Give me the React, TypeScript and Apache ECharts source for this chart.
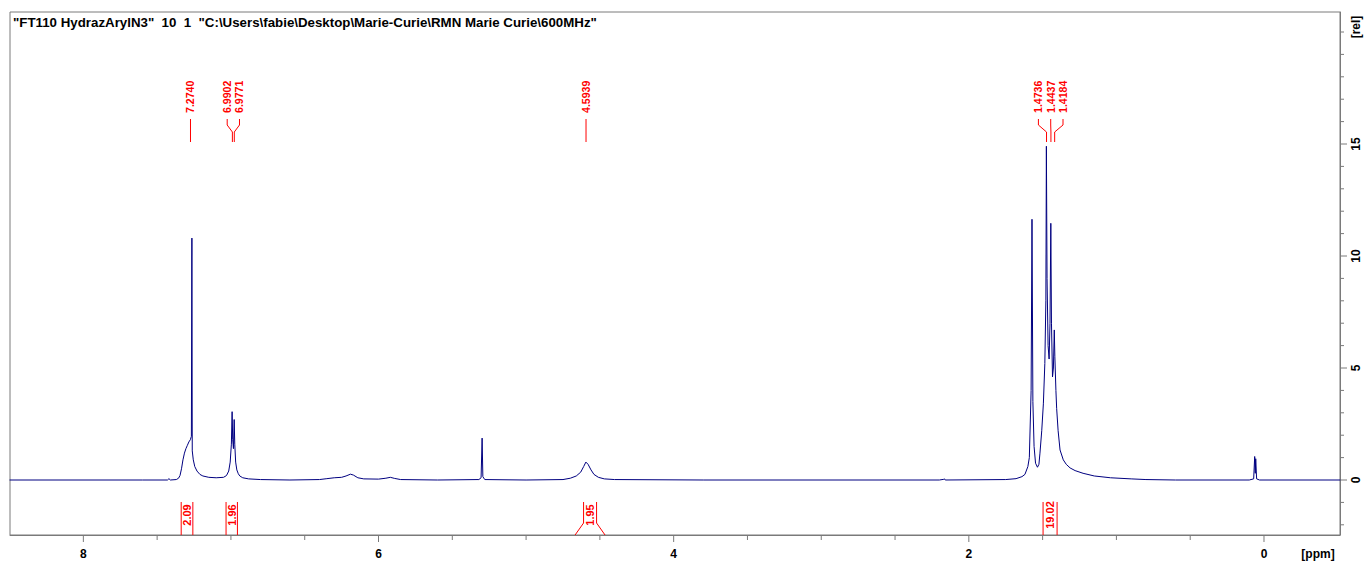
import React, { useEffect, useRef } from "react";
import * as echarts from "echarts";

const titleText =
  '"FT110 HydrazArylN3"  10  1  "C:\\Users\\fabie\\Desktop\\Marie-Curie\\RMN Marie Curie\\600MHz"';

// Spectrum points: chemical shift (ppm) and intensity (rel)
const specPpm = [
  8.5, 7.6, 7.43, 7.42, 7.41, 7.37, 7.355, 7.345, 7.335, 7.325, 7.315, 7.305, 7.295, 7.285,
  7.275, 7.268, 7.2645, 7.262, 7.255, 7.245, 7.23, 7.21, 7.19, 7.15, 7.1, 7.05, 7.03, 7.015,
  7.005, 6.997, 6.992, 6.988, 6.983, 6.978, 6.974, 6.968, 6.96, 6.95, 6.94, 6.92, 6.88, 6.8,
  6.6, 6.4, 6.35, 6.3, 6.25, 6.22, 6.19, 6.17, 6.14, 6.1, 6.0, 5.95, 5.92, 5.89, 5.85, 5.6,
  5.32, 5.305, 5.298, 5.293, 5.28, 5.0, 4.75, 4.7, 4.66, 4.63, 4.61, 4.595, 4.58, 4.56, 4.54,
  4.51, 4.47, 4.4, 3.8, 2.2, 2.17, 2.165, 2.16, 1.75, 1.68, 1.64, 1.62, 1.6, 1.59, 1.578,
  1.572, 1.566, 1.558, 1.548, 1.535, 1.525, 1.518, 1.506, 1.495, 1.485, 1.478, 1.4745, 1.47,
  1.463, 1.456, 1.45, 1.4445, 1.44, 1.433, 1.427, 1.421, 1.417, 1.41, 1.405, 1.395, 1.382,
  1.36, 1.34, 1.314, 1.28, 1.226, 1.15, 1.04, 0.9, 0.8, 0.6, 0.1, 0.07, 0.063, 0.059, 0.056,
  0.05, 0.03, -0.52,
];
const specInt = [
  0, 0, 0, 0.06, 0, 0.02, 0.08, 0.2, 0.5, 0.9, 1.2, 1.4, 1.55, 1.7,
  1.8, 1.95, 10.8, 1.3, 0.9, 0.6, 0.4, 0.25, 0.18, 0.12, 0.1, 0.12, 0.2, 0.4,
  0.8, 1.6, 3.05, 1.8, 1.4, 2.7, 1.6, 0.8, 0.45, 0.28, 0.18, 0.1, 0.05, 0.02,
  0, 0.02, 0.06, 0.1, 0.12, 0.18, 0.26, 0.22, 0.1, 0.05, 0.04, 0.08, 0.12, 0.07, 0.02, 0,
  0.02, 0.1, 1.87, 0.15, 0.02, 0, 0.02, 0.08, 0.18, 0.35, 0.6, 0.8, 0.7, 0.45, 0.25,
  0.12, 0.05, 0.02, 0, 0, 0.03, 0.05, 0, 0.02, 0.06, 0.15, 0.25, 0.6, 1.0, 4.0,
  11.64, 3.5, 1.5, 0.75, 0.57, 0.7, 1.2, 2.2, 3.4, 5.2, 8.0, 14.9, 9.0,
  6.0, 5.4, 7.0, 11.46, 7.0, 4.6, 5.0, 6.7, 5.5, 4.0, 3.2, 2.2, 1.34,
  0.9, 0.7, 0.54, 0.42, 0.3, 0.18, 0.1, 0.05, 0.02, 0, 0, 0.05, 1.05, 0.3, 0.95,
  0.05, 0, 0,
];

// Axis ticks
const xMajorTicks = [8, 6, 4, 2, 0];
const xMinorTicks = [7.5, 7, 6.5, 5.5, 5, 4.5, 3.5, 3, 2.5, 1.5, 1, 0.5];
const yMajorTicks = [0, 5, 10, 15];
const yMinorTicks = [-2, -1, 1, 2, 3, 4, 6, 7, 8, 9, 11, 12, 13, 14, 16, 17, 18, 19, 20];

// Peak picking labels
const peakPpm = [7.274, 6.9902, 6.9771, 4.5939, 1.4736, 1.4437, 1.4184];
const peakLabels = ["7.2740", "6.9902", "6.9771", "4.5939", "1.4736", "1.4437", "1.4184"];
const peakGroup = [0, 1, 1, 2, 3, 3, 3];

// Integrals
const integralFrom = [7.337, 7.033, 4.668, 1.497];
const integralTo = [7.258, 6.956, 4.465, 1.402];
const integralValues = ["2.09", "1.96", "1.95", "19.02"];

const FONT = '"Liberation Sans", Arial, sans-serif';
const RED = "#ff0000";
const AXIS = "#7a7a7a";

export default function App() {
  const ref = useRef<HTMLDivElement>(null);

  useEffect(() => {
    if (!ref.current) return;
    const chart = echarts.init(ref.current, undefined, { renderer: "svg" });
    const spectrum = specPpm.map((p, i) => [p, specInt[i]]);

    const renderDecor = (params: any, api: any) => {
      const cs = params.coordSys;
      const top = cs.y;
      const right = cs.x + cs.width;
      const bottom = cs.y + cs.height;
      const children: any[] = [];
      const line = (x1: number, y1: number, x2: number, y2: number, stroke: string) =>
        children.push({
          type: "line",
          shape: { x1, y1, x2, y2 },
          style: { stroke, lineWidth: 1 },
        });
      const text = (
        t: string,
        x: number,
        y: number,
        opts: { rot?: number; align?: string; fill?: string; size?: number }
      ) =>
        children.push({
          type: "text",
          x,
          y,
          rotation: opts.rot || 0,
          style: {
            text: t,
            fill: opts.fill || "#000",
            fontFamily: FONT,
            fontWeight: "bold",
            fontSize: opts.size || 12,
            align: opts.align || "center",
            verticalAlign: "middle",
          },
        });

      // x axis ticks + labels
      xMajorTicks.forEach((v) => {
        const px = api.coord([v, 0])[0];
        line(px, bottom, px, bottom + 7, AXIS);
        text(String(v), px, bottom + 19, {});
      });
      xMinorTicks.forEach((v) => {
        const px = api.coord([v, 0])[0];
        line(px, bottom, px, bottom + 5, AXIS);
      });
      text("[ppm]", right - 22, bottom + 19, {});

      // y axis ticks + labels (right side)
      yMajorTicks.forEach((v) => {
        const py = api.coord([0, v])[1];
        line(right, py, right + 7, py, AXIS);
        text(String(v), right + 16, py, { rot: Math.PI / 2 });
      });
      yMinorTicks.forEach((v) => {
        const py = api.coord([0, v])[1];
        line(right, py, right + 4, py, AXIS);
      });
      text("[rel]", right + 16, top + 15, { rot: Math.PI / 2 });

      // peak labels
      const groups: Record<number, number[]> = {};
      peakGroup.forEach((g, i) => {
        (groups[g] = groups[g] || []).push(i);
      });
      Object.keys(groups).forEach((k) => {
        const idx = groups[+k];
        const pxs = idx.map((i) => api.coord([peakPpm[i], 0])[0]);
        const center = pxs.reduce((a, b) => a + b, 0) / pxs.length;
        idx.forEach((i, j) => {
          const lx = idx.length === 1 ? pxs[j] : center + (j - (idx.length - 1) / 2) * 12.3;
          text(peakLabels[i], lx, top + 101, { rot: Math.PI / 2, align: "left", fill: RED, size: 10.6 });
          if (idx.length === 1) {
            line(lx, top + 107, lx, top + 130, RED);
          } else {
            children.push({
              type: "polyline",
              shape: {
                points: [
                  [lx, top + 107],
                  [lx, top + 113],
                  [pxs[j], top + 120],
                  [pxs[j], top + 130],
                ],
              },
              style: { stroke: RED, lineWidth: 1, fill: "none" },
            });
          }
        });
      });

      // integrals
      integralFrom.forEach((f, i) => {
        const x1 = api.coord([f, 0])[0];
        const x2 = api.coord([integralTo[i], 0])[0];
        const cx = (x1 + x2) / 2;
        const hw = 6.5;
        if ((x2 - x1) / 2 <= hw + 1.5) {
          line(x1, bottom - 33, x1, bottom, RED);
          line(x2, bottom - 33, x2, bottom, RED);
        } else {
          children.push({
            type: "polyline",
            shape: { points: [[cx - hw, bottom - 33], [cx - hw, bottom - 12], [x1, bottom]] },
            style: { stroke: RED, lineWidth: 1, fill: "none" },
          });
          children.push({
            type: "polyline",
            shape: { points: [[cx + hw, bottom - 33], [cx + hw, bottom - 12], [x2, bottom]] },
            style: { stroke: RED, lineWidth: 1, fill: "none" },
          });
        }
        text(integralValues[i], cx, bottom - 20, { rot: Math.PI / 2, fill: RED, size: 11 });
      });

      return { type: "group", children };
    };

    chart.setOption({
      animation: false,
      backgroundColor: "#ffffff",
      graphic: [
        {
          type: "text",
          x: 13,
          y: 22,
          silent: true,
          style: {
            text: titleText,
            fill: "#000",
            fontFamily: FONT,
            fontSize: 13.3,
            fontWeight: "bold",
            align: "left",
            verticalAlign: "middle",
          },
        },
      ],
      grid: {
        left: 10,
        top: 12,
        width: 1330,
        height: 523,
        show: true,
        borderColor: AXIS,
        borderWidth: 1,
      },
      xAxis: {
        type: "value",
        min: -0.515,
        max: 8.497,
        inverse: true,
        axisLine: { show: true, onZero: false, lineStyle: { color: AXIS } },
        axisTick: { show: false },
        axisLabel: { show: false },
        splitLine: { show: false },
      },
      yAxis: {
        type: "value",
        position: "right",
        min: -2.455,
        max: 20.893,
        axisLine: { show: true, onZero: false, lineStyle: { color: AXIS } },
        axisTick: { show: false },
        axisLabel: { show: false },
        splitLine: { show: false },
      },
      series: [
        {
          type: "line",
          data: spectrum,
          showSymbol: false,
          symbol: "none",
          lineStyle: { color: "#000080", width: 1 },
          silent: true,
          z: 3,
        },
        {
          type: "custom",
          data: [[0, 0]],
          renderItem: renderDecor,
          silent: true,
          clip: false,
          z: 4,
        },
      ],
    });
    return () => chart.dispose();
  }, []);

  return (
    <div
      ref={ref}
      style={{ position: "absolute", left: 0, top: 0, width: 1365, height: 561 }}
    />
  );
}
